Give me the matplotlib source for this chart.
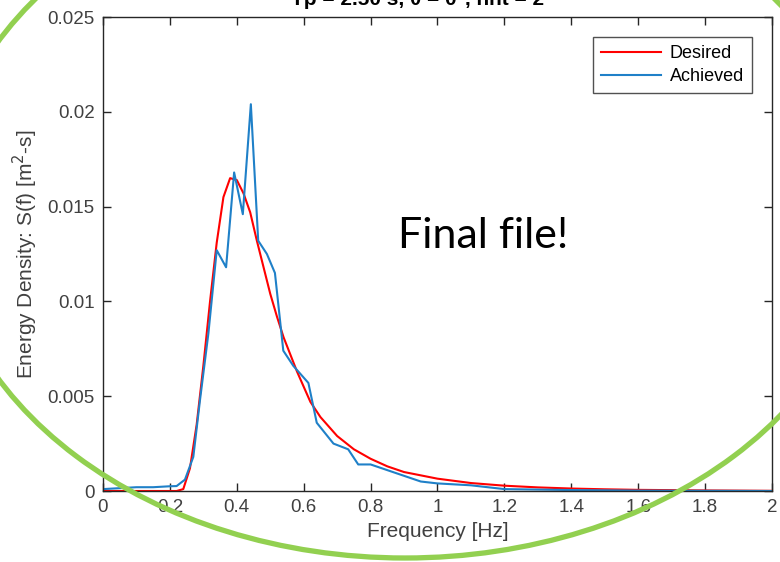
import matplotlib
matplotlib.use("Agg")
import matplotlib.pyplot as plt
from matplotlib.patches import Ellipse

# ---- data ----
desired_f = [0.0, 0.22, 0.24, 0.26, 0.28, 0.30, 0.32, 0.34, 0.36, 0.38, 0.40, 0.42,
             0.44, 0.46, 0.48, 0.50, 0.52, 0.54, 0.56, 0.58, 0.60, 0.62, 0.65, 0.70,
             0.75, 0.80, 0.85, 0.90, 1.0, 1.1, 1.2, 1.3, 1.4, 1.5, 1.6, 1.8, 2.0]
desired_s = [0.0, 0.0, 0.0001, 0.0012, 0.0035, 0.0066, 0.0100, 0.0131, 0.0155, 0.0165,
             0.0164, 0.0157, 0.0147, 0.0132, 0.0118, 0.0104, 0.0092, 0.0081, 0.0072,
             0.0063, 0.0055, 0.0047, 0.0039, 0.0029, 0.0022, 0.0017, 0.0013, 0.0010,
             0.00065, 0.00042, 0.00028, 0.00019, 0.00013, 0.00009, 0.00006, 0.00003, 0.00001]

achieved_f = [0.0, 0.05, 0.10, 0.15, 0.20, 0.22, 0.245, 0.27, 0.29, 0.315, 0.34, 0.368,
              0.392, 0.418, 0.442, 0.464, 0.49, 0.514, 0.539, 0.569, 0.614, 0.639,
              0.689, 0.733, 0.763, 0.80, 0.85, 0.90, 0.95, 1.0, 1.1, 1.2, 1.4, 1.6, 2.0]
achieved_s = [0.0001, 0.00015, 0.0002, 0.0002, 0.00025, 0.00026, 0.0006, 0.0018, 0.0048,
              0.0083, 0.0127, 0.0118, 0.0168, 0.0146, 0.0204, 0.0132, 0.0125, 0.0115,
              0.0074, 0.0066, 0.0057, 0.0036, 0.0025, 0.0022, 0.0014, 0.0014, 0.0011,
              0.0008, 0.0005, 0.0004, 0.0003, 0.0001, 0.00005, 0.00002, 0.0]

xticks = [0, 0.2, 0.4, 0.6, 0.8, 1.0, 1.2, 1.4, 1.6, 1.8, 2.0]
xticklabels = ["0", "0.2", "0.4", "0.6", "0.8", "1", "1.2", "1.4", "1.6", "1.8", "2"]
yticks = [0, 0.005, 0.01, 0.015, 0.02, 0.025]
yticklabels = ["0", "0.005", "0.01", "0.015", "0.02", "0.025"]

title_text = "Tp = 2.50 s, θ = 0°, nnt = 2"

plt.rcParams['font.family'] = ['Liberation Sans', 'DejaVu Sans']

W, H = 780, 562
fig = plt.figure(figsize=(W / 100, H / 100), dpi=100)
ax = fig.add_axes([103 / W, (H - 491) / H, 669 / W, 474 / H])

ax.plot(desired_f, desired_s, color='#ff0000', lw=1.5, label='Desired')
ax.plot(achieved_f, achieved_s, color='#1f80c8', lw=1.5, label='Achieved')

ax.set_xlim(0, 2)
ax.set_ylim(0, 0.025)
ax.set_xticks(xticks)
ax.set_xticklabels(xticklabels)
ax.set_yticks(yticks)
ax.set_yticklabels(yticklabels)

dark = '#262626'
for s in ax.spines.values():
    s.set_color(dark)
    s.set_linewidth(1.0)
ax.tick_params(direction='in', length=6, width=1.0, color=dark, labelcolor='#404040',
               labelsize=13.5, top=True, right=True, pad=6)

ax.set_xlabel('Frequency [Hz]', fontsize=15, color='#404040', labelpad=4)
ax.set_ylabel('Energy Density: S(f) [m$^2$-s]', fontsize=15, color='#404040', labelpad=5)

leg = ax.legend(loc='upper right', fontsize=13, frameon=True, fancybox=False,
                edgecolor='#262626', handlelength=3.3, borderpad=0.45,
                labelspacing=0.35, handletextpad=0.5, borderaxespad=1.1)
leg.get_frame().set_linewidth(1.0)

fig.text(418 / W, 1 - 5 / H, title_text, ha='center', va='baseline',
         fontsize=15, fontweight='bold', color='black')

fig.text(483 / W, 1 - 248 / H, 'Final file!', ha='center', va='baseline',
         fontsize=31, family=['Lato', 'DejaVu Sans'], color='black')

ell = Ellipse((405 / W, 1 - 210 / H), width=2 * 465 / W, height=2 * 348 / H,
              transform=fig.transFigure, fill=False, edgecolor='#92D050',
              linewidth=3.8, zorder=10)
fig.patches.append(ell)

fig.savefig('out.png', dpi=100)
